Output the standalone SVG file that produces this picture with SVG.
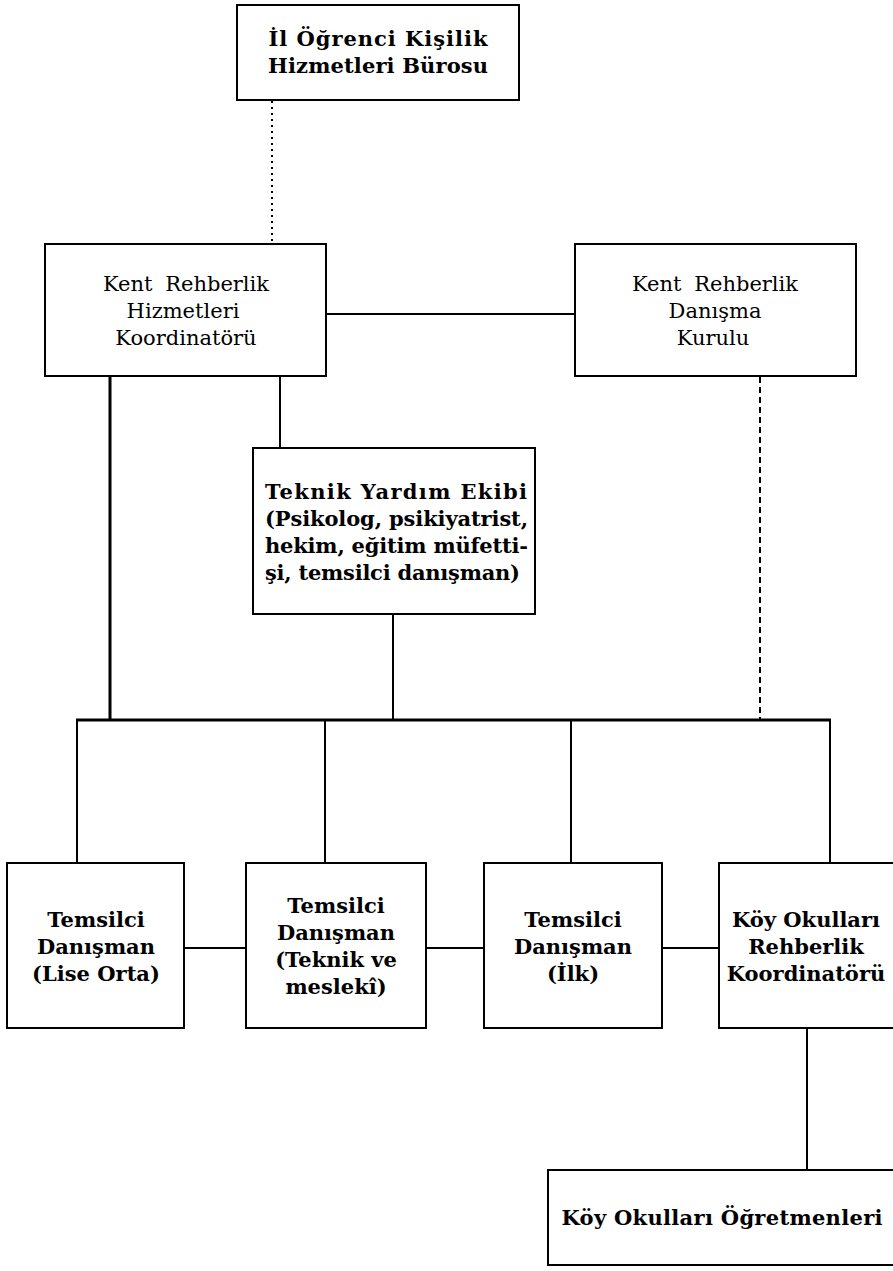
<svg xmlns="http://www.w3.org/2000/svg" width="893" height="1271" viewBox="0 0 893 1271">
<style>
.box{fill:#fff;stroke:#000;stroke-width:2}
.ln{stroke:#000;stroke-width:2;fill:none}
.thick{stroke-width:3}
.dot{stroke-dasharray:2 4}
.dash{stroke-dasharray:6 4}
.t{font-family:"DejaVu Serif","Liberation Serif",serif;font-size:21px;fill:#000;text-anchor:middle}
.b{font-weight:bold}
.r{font-weight:normal;word-spacing:6px}
.s{text-anchor:start}
</style>
<rect width="893" height="1271" fill="#fff"/>
<g id="connectors">
<line class="ln dot" x1="272" y1="101" x2="272" y2="243"/>
<line class="ln" x1="326" y1="314" x2="575" y2="314"/>
<line class="ln thick" x1="110" y1="377" x2="110" y2="720"/>
<line class="ln" x1="280" y1="377" x2="280" y2="447"/>
<line class="ln" x1="393" y1="614" x2="393" y2="720"/>
<line class="ln dash" x1="760" y1="377" x2="760" y2="720"/>
<line class="ln thick" x1="76" y1="720" x2="831" y2="720"/>
<line class="ln" x1="77" y1="720" x2="77" y2="862"/>
<line class="ln" x1="325" y1="720" x2="325" y2="862"/>
<line class="ln" x1="571" y1="720" x2="571" y2="862"/>
<line class="ln" x1="830" y1="720" x2="830" y2="862"/>
<line class="ln" x1="184" y1="948" x2="246" y2="948"/>
<line class="ln" x1="426" y1="948" x2="484" y2="948"/>
<line class="ln" x1="662" y1="948" x2="719" y2="948"/>
<line class="ln" x1="807" y1="1029" x2="807" y2="1169"/>
</g>
<g id="il-burosu">
<rect class="box" x="237" y="5" width="282" height="95"/>
<text class="t b" x="378" y="46" textLength="219">İl Öğrenci Kişilik</text>
<text class="t b" x="378" y="73" textLength="220">Hizmetleri Bürosu</text>
</g>
<g id="kent-koordinator">
<rect class="box" x="45" y="244" width="281" height="132"/>
<text class="t r" x="186" y="291">Kent Rehberlik</text>
<text class="t r" x="183" y="318">Hizmetleri</text>
<text class="t r" x="186" y="345">Koordinatörü</text>
</g>
<g id="kent-danisma">
<rect class="box" x="575" y="244" width="281" height="132"/>
<text class="t r" x="715" y="291">Kent Rehberlik</text>
<text class="t r" x="715" y="318">Danışma</text>
<text class="t r" x="713" y="345">Kurulu</text>
</g>
<g id="teknik-ekip">
<rect class="box" x="253" y="448" width="282" height="166"/>
<text class="t b s" x="265" y="499" textLength="262">Teknik Yardım Ekibi</text>
<text class="t b s" x="265" y="526" textLength="263">(Psikolog, psikiyatrist,</text>
<text class="t b s" x="265" y="553" textLength="263">hekim, eğitim müfetti-</text>
<text class="t b s" x="265" y="580" textLength="255">şi, temsilci danışman)</text>
</g>
<g id="lise-orta">
<rect class="box" x="7" y="863" width="177" height="165"/>
<text class="t b" x="96" y="927">Temsilci</text>
<text class="t b" x="96" y="954">Danışman</text>
<text class="t b" x="96" y="981">(Lise Orta)</text>
</g>
<g id="teknik-meslek">
<rect class="box" x="246" y="863" width="180" height="165"/>
<text class="t b" x="336" y="913">Temsilci</text>
<text class="t b" x="336" y="940">Danışman</text>
<text class="t b" x="336" y="967">(Teknik ve</text>
<text class="t b" x="336" y="994">meslekî)</text>
</g>
<g id="ilk">
<rect class="box" x="484" y="863" width="178" height="165"/>
<text class="t b" x="573" y="927">Temsilci</text>
<text class="t b" x="573" y="954">Danışman</text>
<text class="t b" x="573" y="981">(İlk)</text>
</g>
<g id="koy-koordinator">
<rect class="box" x="719" y="863" width="180" height="165"/>
<text class="t b" x="806" y="927">Köy Okulları</text>
<text class="t b" x="806" y="954">Rehberlik</text>
<text class="t b" x="806" y="981">Koordinatörü</text>
</g>
<g id="koy-ogretmenleri">
<rect class="box" x="548" y="1170" width="350" height="95"/>
<text class="t b" x="722" y="1225" textLength="321">Köy  Okulları  Öğretmenleri</text>
</g>
</svg>
